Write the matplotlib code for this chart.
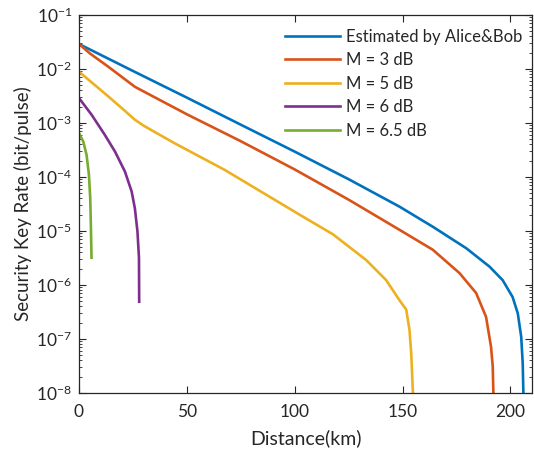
import matplotlib
matplotlib.use("Agg")
import matplotlib.pyplot as plt
from matplotlib.ticker import LogLocator, NullFormatter, FixedLocator

plt.rcParams['font.family'] = ['Lato', 'DejaVu Sans']
plt.rcParams['mathtext.fontset'] = 'custom'
plt.rcParams['mathtext.rm'] = 'Lato'
plt.rcParams['mathtext.it'] = 'Lato:italic'

labels = ["Estimated by Alice&Bob", "M = 3 dB", "M = 5 dB", "M = 6 dB", "M = 6.5 dB"]
colors = ["#0072BD", "#D95319", "#EDB120", "#7E2F8E", "#77AC30"]

blue_x = [0, 25, 50, 75, 100, 125, 148.6, 164, 179.5, 190.3, 196.4, 201, 203.4, 205, 205.7, 206]
blue_y = [2.9e-2, 9.2e-3, 2.95e-3, 9.3e-4, 2.95e-4, 9.1e-5, 2.82e-5, 1.20e-5, 4.8e-6,
          2.19e-6, 1.23e-6, 6.0e-7, 3.0e-7, 1.10e-7, 3.5e-8, 1e-8]

red_x = [0, 5, 13.6, 25.9, 50, 75, 100, 125, 148.6, 164, 176.4, 184.1, 188.7, 191, 191.8, 192.1]
red_y = [2.9e-2, 1.95e-2, 1.10e-2, 4.68e-3, 1.45e-3, 4.6e-4, 1.38e-4, 3.8e-5, 1.05e-5,
         4.5e-6, 1.66e-6, 7.1e-7, 2.57e-7, 7.2e-8, 3.1e-8, 1e-8]

yellow_x = [0, 6, 13.6, 20, 25.9, 30, 44.4, 67.6, 102.3, 117.7, 133.2, 142.4, 148.6, 151.7,
            153.2, 154, 154.8]
yellow_y = [8.9e-3, 5.6e-3, 3.1e-3, 1.86e-3, 1.15e-3, 8.9e-4, 4.2e-4, 1.35e-4, 2.0e-5, 8.7e-6,
            2.88e-6, 1.23e-6, 5.2e-7, 3.5e-7, 1.48e-7, 5.5e-8, 1e-8]

purple_x = [0, 5.9, 12, 16.7, 21.3, 24.4, 25.9, 27.1, 27.8, 27.9]
purple_y = [2.9e-3, 1.41e-3, 6.0e-4, 2.95e-4, 1.26e-4, 5.4e-5, 2.63e-5, 9.8e-6, 3.2e-6, 4.9e-7]

green_x = [0, 2.0, 3.5, 4.6, 5.2, 5.5, 5.8]
green_y = [6.5e-4, 4.5e-4, 2.57e-4, 1.10e-4, 4.1e-5, 1.29e-5, 3.2e-6]

xticks = [0, 50, 100, 150, 200]

fig = plt.figure(figsize=(5.34, 4.51), dpi=100)
ax = fig.add_axes([79/534, 1-393/451, (532-79)/534, (393-15)/451])

series = [(blue_x, blue_y), (red_x, red_y), (yellow_x, yellow_y), (purple_x, purple_y), (green_x, green_y)]
for (xs, ys), lab, c in zip(series, labels, colors):
    ax.plot(xs, ys, color=c, lw=1.9, label=lab, solid_joinstyle='round')

ax.set_yscale('log')
ax.set_xlim(0, 210)
ax.set_ylim(1e-8, 1e-1)
ax.xaxis.set_major_locator(FixedLocator(xticks))
ax.yaxis.set_major_locator(LogLocator(base=10, numticks=20))
ax.yaxis.set_minor_locator(LogLocator(base=10, subs=range(2, 10), numticks=20))
ax.yaxis.set_minor_formatter(NullFormatter())
ax.tick_params(which='both', direction='in', top=True, right=True, labelsize=12.5, colors='#262626')
ax.tick_params(which='major', length=5, width=0.8)
ax.tick_params(which='minor', length=2.5, width=0.6)
ax.tick_params(axis='x', which='major', pad=8)
ax.tick_params(axis='y', which='major', pad=5)
for s in ax.spines.values():
    s.set_linewidth(0.9)
    s.set_color('#262626')

ax.set_xlabel("Distance(km)", fontsize=14, color='#262626', labelpad=6.5)
ax.set_ylabel("Security Key Rate (bit/pulse)", fontsize=13.5, color='#262626', labelpad=3)

leg = ax.legend(loc='upper right', frameon=False, fontsize=12, handlelength=3.3,
                handletextpad=0.4, labelspacing=0.45, borderaxespad=0.3,
                bbox_to_anchor=(1.005, 0.995))
for t in leg.get_texts():
    t.set_color('#262626')

fig.savefig("out.png", dpi=100)
